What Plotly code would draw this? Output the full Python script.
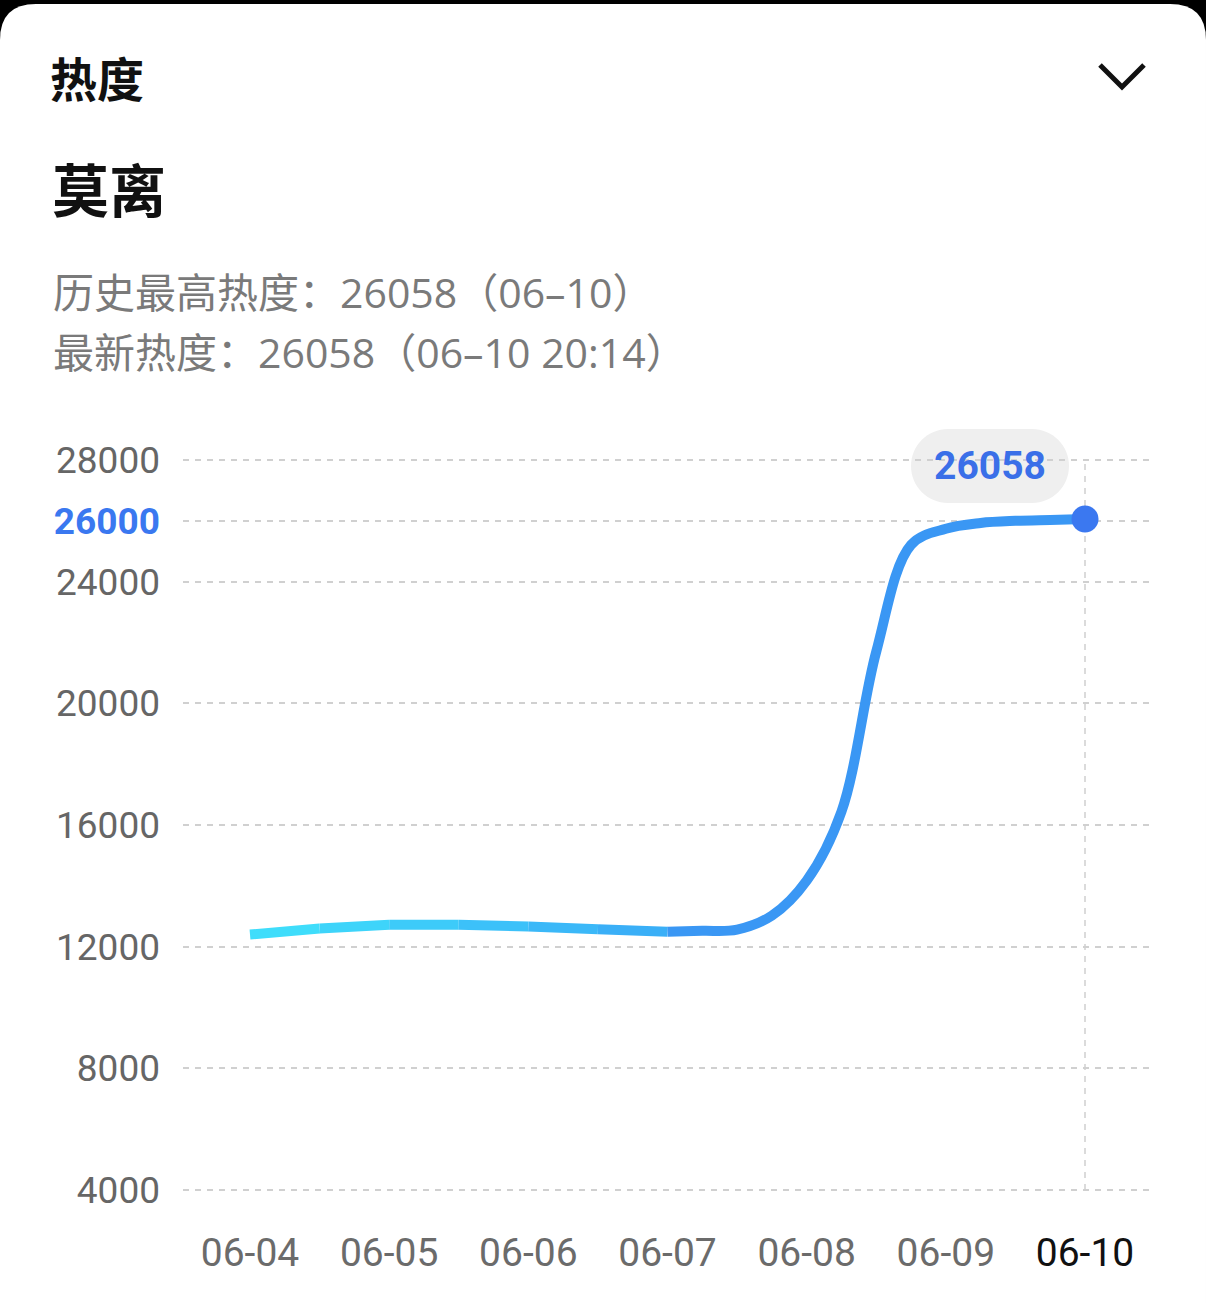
import plotly.graph_objects as go

# ---------------- data ----------------
times = ["06-04 00:00", "06-04 12:00", "06-05 00:00", "06-05 12:00", "06-06 00:00",
         "06-06 12:00", "06-07 00:00", "06-07 06:00", "06-07 12:00", "06-07 18:00",
         "06-08 00:00", "06-08 06:00", "06-08 12:00", "06-08 18:00", "06-09 00:00",
         "06-09 06:00", "06-09 12:00", "06-09 18:00", "06-10 00:00"]
values = [12400, 12600, 12720, 12720, 12660, 12570, 12490, 12520, 12560, 13020,
          14170, 16440, 21700, 25210, 25740, 25930, 26000, 26030, 26058]
day_labels = ["06-04", "06-05", "06-06", "06-07", "06-08", "06-09", "06-10"]
y_ticks = [4000, 8000, 12000, 16000, 20000, 24000, 26000, 28000]
peak_value = 26058
title_small = "热度"
title_big = "莫离"
line1 = "历史最高热度：26058（06–10）"
line2 = "最新热度：26058（06–10 20:14）"

# ---------------- helpers ----------------
W, H = 1206, 1303
L, R, T, B = 183, 56, 400, 103
PW, PH = W - L - R, H - T - B


def to_day(s):
    md, hm = s.split(" ")
    d = int(md.split("-")[1]) - 4
    h, m = hm.split(":")
    return d + (int(h) + int(m) / 60) / 24


def fx(px):
    return (px - L) / PW


def fy(py):
    return (H - B - py) / PH


def mix(c1, c2, t):
    a = [int(c1[i:i + 2], 16) for i in (1, 3, 5)]
    b = [int(c2[i:i + 2], 16) for i in (1, 3, 5)]
    return "#%02x%02x%02x" % tuple(round(a[k] + (b[k] - a[k]) * t) for k in range(3))


xs = [to_day(t) for t in times]
day_x = list(range(len(day_labels)))

fig = go.Figure()

split = times.index("06-07 00:00")
c_start, c_flat_end, c_rise = "#3fe2fb", "#3aaaf7", "#3a97f4"
# gradient flat part as short segments
for i in range(split):
    t = (i + 0.5) / split
    fig.add_trace(go.Scatter(
        x=xs[i:i + 2], y=values[i:i + 2], mode="lines",
        line=dict(color=mix(c_start, c_flat_end, t), width=10, shape="linear"),
        hoverinfo="skip", showlegend=False))

# rising part
fig.add_trace(go.Scatter(
    x=xs[split:], y=values[split:], mode="lines",
    line=dict(color=c_rise, width=10, shape="spline", smoothing=1.0),
    hoverinfo="skip", showlegend=False))

# last point marker
fig.add_trace(go.Scatter(
    x=[xs[-1]], y=[values[-1]], mode="markers",
    marker=dict(color="#3b78f0", size=27, line=dict(width=0)),
    hoverinfo="skip", showlegend=False))

px_per_unit = (1190 - 460) / (28000 - 4000)
y_lo = 4000 - (H - B - 1190) / px_per_unit
y_hi = 28000 + (460 - T) / px_per_unit
px_per_day = (1085 - 250) / 6
x_lo = -(250 - L) / px_per_day
x_hi = 6 + (W - R - 1085) / px_per_day

ytext = []
for v in y_ticks:
    if v == 26000:
        ytext.append('<span style="color:#3a78f0"><b>%d</b></span>' % v)
    else:
        ytext.append(str(v))
xtext = []
for i, lab in enumerate(day_labels):
    if i == len(day_labels) - 1:
        xtext.append('<span style="color:#111111">%s</span>' % lab)
    else:
        xtext.append(lab)

shapes = []
# white card with rounded top corners
r = 36
top = 4
shapes.append(dict(
    type="path", xref="paper", yref="paper", layer="below",
    path=("M %f,%f L %f,%f Q %f,%f %f,%f L %f,%f Q %f,%f %f,%f L %f,%f Z" % (
        fx(0), fy(H), fx(0), fy(top + r), fx(0), fy(top), fx(r), fy(top),
        fx(W - r), fy(top), fx(W), fy(top), fx(W), fy(top + r), fx(W), fy(H))),
    fillcolor="white", line=dict(width=0)))
# chevron
shapes.append(dict(
    type="path", xref="paper", yref="paper",
    path="M %f,%f L %f,%f L %f,%f" % (fx(1100), fy(65), fx(1122), fy(87), fx(1144), fy(65)),
    line=dict(color="#111111", width=5)))
# vertical dashed guide at the last point
shapes.append(dict(
    type="line", xref="x", yref="y", x0=xs[-1], x1=xs[-1], y0=4000, y1=28000,
    line=dict(color="#cfcfcf", width=1.5, dash="6px,6px"), layer="below"))
# pill behind peak label (pixel offsets from the last point)
cx, cy, pw, ph = -95, 53, 158, 74
rr = ph / 2
k = 0.5523 * rr
xl, xr = cx - pw / 2, cx + pw / 2
yb, yt = cy - ph / 2, cy + ph / 2
pill = ("M %f,%f L %f,%f C %f,%f %f,%f %f,%f C %f,%f %f,%f %f,%f "
        "L %f,%f C %f,%f %f,%f %f,%f C %f,%f %f,%f %f,%f Z") % (
    xl + rr, yt, xr - rr, yt,
    xr - rr + k, yt, xr, cy + k, xr, cy,
    xr, cy - k, xr - rr + k, yb, xr - rr, yb,
    xl + rr, yb,
    xl + rr - k, yb, xl, cy - k, xl, cy,
    xl, cy + k, xl + rr - k, yt, xl + rr, yt)
shapes.append(dict(
    type="path", xref="x", yref="y", xsizemode="pixel", ysizemode="pixel",
    xanchor=xs[-1], yanchor=values[-1], path=pill,
    fillcolor="#efefef", line=dict(width=0), layer="below"))

cjk = "Noto Sans CJK SC"
info_font = "Open Sans, Noto Sans CJK SC"
annotations = [
    dict(text="<b>%s</b>" % title_small, x=fx(48), y=fy(77), xref="paper", yref="paper",
         xanchor="left", yanchor="middle", showarrow=False,
         font=dict(family=cjk, size=47, color="#111111")),
    dict(text="<b>%s</b>" % title_big, x=fx(50), y=fy(187), xref="paper", yref="paper",
         xanchor="left", yanchor="middle", showarrow=False,
         font=dict(family=cjk, size=57, color="#111111")),
    dict(text=line1, x=fx(51), y=fy(292), xref="paper", yref="paper",
         xanchor="left", yanchor="middle", showarrow=False,
         font=dict(family=info_font, size=41, color="#7a7a7a")),
    dict(text=line2, x=fx(51), y=fy(352), xref="paper", yref="paper",
         xanchor="left", yanchor="middle", showarrow=False,
         font=dict(family=info_font, size=41, color="#7a7a7a")),
    dict(text="<b>%d</b>" % peak_value, x=xs[-1], y=values[-1], xref="x", yref="y",
         xshift=-95, yshift=53, showarrow=False, xanchor="center", yanchor="middle",
         font=dict(family="Roboto", size=39, color="#3a6fe8")),
]

fig.update_layout(
    width=W, height=H, margin=dict(l=L, r=R, t=T, b=B, pad=0),
    paper_bgcolor="#000000", plot_bgcolor="#ffffff",
    shapes=shapes, annotations=annotations, showlegend=False,
    xaxis=dict(range=[x_lo, x_hi], tickvals=day_x, ticktext=xtext, showgrid=False,
               zeroline=False, showline=False, ticks="", ticklabelstandoff=26,
               tickfont=dict(family="Roboto", size=39, color="#6b6b6b"), fixedrange=True),
    yaxis=dict(range=[y_lo, y_hi], tickvals=y_ticks, ticktext=ytext, showgrid=True,
               gridcolor="#d0d0d0", gridwidth=2, griddash="6px,6px",
               zeroline=False, showline=False, ticks="", ticklabelstandoff=22,
               tickfont=dict(family="Roboto", size=37, color="#666666"), fixedrange=True),
)

fig.write_html("out.html")
